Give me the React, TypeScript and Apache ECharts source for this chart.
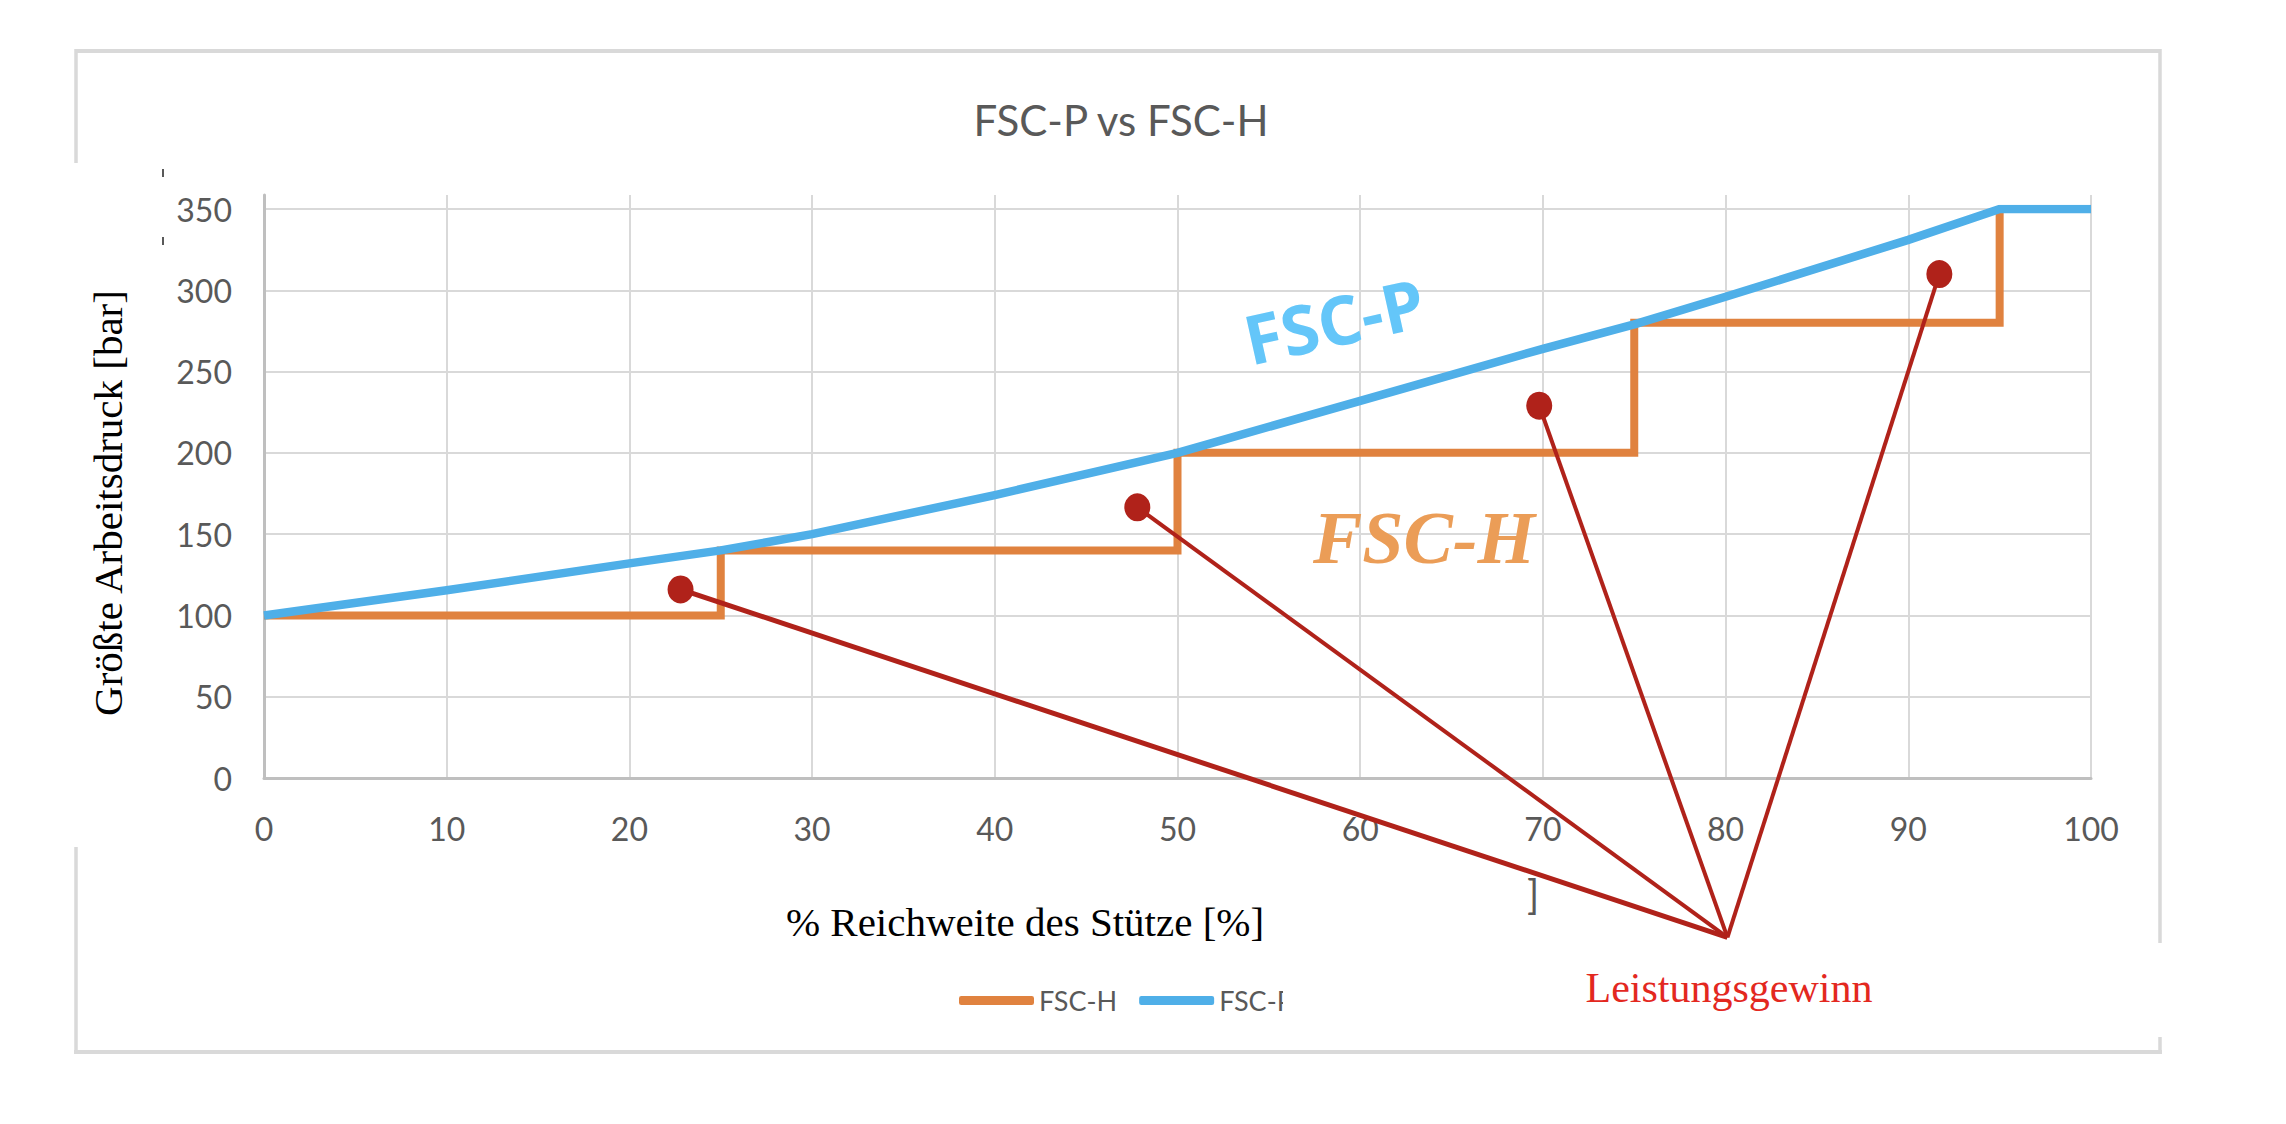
import React, { useEffect, useRef } from "react";
import * as echarts from "echarts";

// ---- data ----
const titleText = "FSC-P vs FSC-H";
const xName = "% Reichweite des Stütze [%]";
const yName = "Größte Arbeitsdruck [bar]";
const seriesNames = ["FSC-H", "FSC-P"];

const fscPx = [0, 10, 20, 25, 30, 40, 50, 60, 70, 75, 80, 90, 95, 100];
const fscPy = [100, 115.5, 132, 140, 150, 174, 200, 232, 264, 279, 296, 331, 350, 350];

const fscHx = [0, 25, 50, 75, 95];
const fscHy = [100, 140, 200, 280, 350];

const gainX = [22.8, 47.8, 69.8, 91.7];
const gainY = [116, 166.5, 229, 310];
const focusX = 80.1;
const focusY = -98;
const gainLabel = "Leistungsgewinn";

const xMin = 0, xMax = 100, xStep = 10;
const yMin = 0, yMax = 350, yStep = 50;

const zip = (a: number[], b: number[]) => a.map((v, i) => [v, b[i]]);

export default function App() {
  const ref = useRef<HTMLDivElement>(null);

  useEffect(() => {
    if (!ref.current) return;
    const chart = echarts.init(ref.current, null, { renderer: "svg" });

    const border = "#d9d9d9";
    const tickFont = "Lato";

    const gainSeries = gainX.map((gx, i) => ({
      type: "line",
      xAxisIndex: 0,
      yAxisIndex: 0,
      data: [[gx, gainY[i]], [focusX, focusY]],
      symbol: "none",
      clip: false,
      silent: true,
      z: 4,
      lineStyle: { color: "#b0221a", width: i === 0 ? 5 : 4 },
      itemStyle: { color: "#b0221a" },
    }));

    const option: any = {
      animation: false,
      backgroundColor: "#ffffff",
      title: {
        text: titleText,
        left: 1116,
        top: 94,
        textAlign: "center",
        textStyle: { color: "#595959", fontSize: 42, fontWeight: "normal", fontFamily: tickFont },
      },
      legend: {
        data: seriesNames,
        left: 954,
        top: 982,
        itemWidth: 75,
        itemHeight: 9,
        itemGap: 22,
        icon: "roundRect",
        textStyle: { color: "#595959", fontSize: 27, fontFamily: tickFont },
      },
      grid: [
        { left: 264, right: 195, top: 209, bottom: 346 },
        { left: 264, right: 195, top: 195, bottom: 346 },
      ],
      xAxis: [
        {
          gridIndex: 0,
          type: "value",
          min: xMin,
          max: xMax,
          interval: xStep,
          axisLine: { show: true, lineStyle: { color: "#bfbfbf", width: 3 } },
          axisTick: { show: false },
          splitLine: { show: false },
          axisLabel: { margin: 34, color: "#595959", fontSize: 32, fontFamily: tickFont },
        },
        {
          gridIndex: 1,
          type: "value",
          min: xMin,
          max: xMax,
          interval: xStep,
          axisLine: { show: false },
          axisTick: { show: false },
          axisLabel: { show: false },
          splitLine: { show: true, lineStyle: { color: border, width: 2 } },
        },
      ],
      yAxis: [
        {
          gridIndex: 0,
          type: "value",
          min: yMin,
          max: yMax,
          interval: yStep,
          axisLine: { show: false },
          axisTick: { show: false },
          splitLine: { show: true, lineStyle: { color: border, width: 2 } },
          axisLabel: { margin: 32, color: "#595959", fontSize: 32, fontFamily: tickFont },
        },
        {
          gridIndex: 1,
          type: "value",
          min: 0,
          max: 1,
          axisLine: { show: true, lineStyle: { color: "#bfbfbf", width: 3 } },
          axisTick: { show: false },
          axisLabel: { show: false },
          splitLine: { show: false },
        },
      ],
      series: [
        {
          name: seriesNames[0],
          type: "line",
          xAxisIndex: 0,
          yAxisIndex: 0,
          step: "end",
          data: zip(fscHx, fscHy),
          symbol: "none",
          z: 2,
          color: "#e0823f",
          itemStyle: { color: "#e0823f" },
          lineStyle: { color: "#e0823f", width: 8, join: "miter", cap: "butt" },
        },
        {
          name: seriesNames[1],
          type: "line",
          xAxisIndex: 0,
          yAxisIndex: 0,
          data: zip(fscPx, fscPy),
          symbol: "none",
          z: 3,
          color: "#4fafe8",
          itemStyle: { color: "#4fafe8" },
          lineStyle: { color: "#4fafe8", width: 8.5, join: "round" },
        },
        ...gainSeries,
        {
          type: "scatter",
          xAxisIndex: 0,
          yAxisIndex: 0,
          data: zip(gainX, gainY),
          symbol: "circle",
          symbolSize: [26, 28],
          z: 5,
          silent: true,
          itemStyle: { color: "#b0221a", opacity: 1 },
        },
      ],
      graphic: [
        // outer frame pieces
        { type: "line", shape: { x1: 76, y1: 51, x2: 2160, y2: 51 }, style: { stroke: border, lineWidth: 4 } },
        { type: "line", shape: { x1: 76, y1: 49, x2: 76, y2: 163 }, style: { stroke: border, lineWidth: 3.5 } },
        { type: "line", shape: { x1: 76, y1: 847, x2: 76, y2: 1054 }, style: { stroke: border, lineWidth: 3.5 } },
        { type: "line", shape: { x1: 2160, y1: 49, x2: 2160, y2: 943 }, style: { stroke: border, lineWidth: 3.5 } },
        { type: "line", shape: { x1: 2160, y1: 1037, x2: 2160, y2: 1054 }, style: { stroke: border, lineWidth: 3.5 } },
        { type: "line", shape: { x1: 74, y1: 1052, x2: 2162, y2: 1052 }, style: { stroke: border, lineWidth: 4 } },
        // small leftover marks
        { type: "rect", shape: { x: 162, y: 169, width: 2, height: 8 }, style: { fill: "#595959" } },
        { type: "rect", shape: { x: 162, y: 237, width: 2, height: 8 }, style: { fill: "#595959" } },
        {
          type: "text",
          x: 1533,
          y: 894,
          style: { text: "]", fill: "#595959", font: '40px "Lato"', align: "center", verticalAlign: "middle" },
        },
        // white patch clipping the legend's last label
        { type: "rect", z: 100, shape: { x: 1283, y: 972, width: 40, height: 46 }, style: { fill: "#ffffff" } },
        // axis names
        {
          type: "text",
          x: 108,
          y: 503,
          rotation: Math.PI / 2,
          style: { text: yName, fill: "#000000", font: '41px "Liberation Serif"', align: "center", verticalAlign: "middle" },
        },
        {
          type: "text",
          x: 1025,
          y: 922,
          style: { text: xName, fill: "#000000", font: '41px "Liberation Serif"', align: "center", verticalAlign: "middle" },
        },
        // annotations
        {
          type: "text",
          x: 1334,
          y: 320,
          rotation: 0.22,
          z: 10,
          style: { text: seriesNames[1], fill: "#64c6f9", font: 'bold 68px "Open Sans"', align: "center", verticalAlign: "middle" },
        },
        {
          type: "text",
          x: 1424,
          y: 538,
          z: 10,
          style: { text: seriesNames[0], fill: "#eb9d57", font: 'italic bold 74px "Liberation Serif"', align: "center", verticalAlign: "middle" },
        },
        {
          type: "text",
          x: 1729,
          y: 988,
          z: 10,
          style: { text: gainLabel, fill: "#e3281f", font: '42px "Liberation Serif"', align: "center", verticalAlign: "middle" },
        },
      ],
    };

    chart.setOption(option);
    return () => chart.dispose();
  }, []);

  return (
    <div
      ref={ref}
      style={{ position: "absolute", left: 0, top: 0, width: 2286, height: 1124, background: "#fff" }}
    />
  );
}
